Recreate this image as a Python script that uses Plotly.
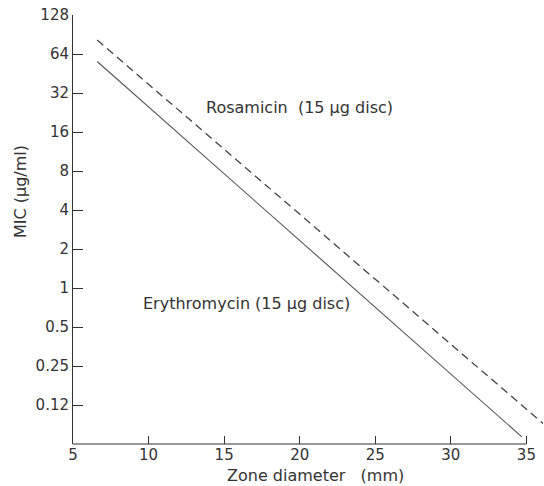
import numpy as np
import plotly.graph_objects as go

# Data
ery_x = [6.6, 34.7]
ery_y = [56, 0.071]
ros_x = [6.6, 36.2]
ros_y = [82, 0.088]

y_tickvals = [128, 64, 32, 16, 8, 4, 2, 1, 0.5, 0.25, 0.125]
y_ticktext = ["128", "64", "32", "16", "8", "4", "2", "1", "0.5", "0.25", "0.12"]
x_tickvals = [5, 10, 15, 20, 25, 30, 35]

FONT = "DejaVu Sans"
INK = "#333333"

W, H = 544, 486
ML, MR, MT, MB = 73, 1, 15, 42
pw, ph = W - ML - MR, H - MT - MB


def px_x(x):
    return (x - ML) / pw


def px_y(y):
    return (H - MB - y) / ph


fig = go.Figure()
fig.add_trace(go.Scatter(x=ros_x, y=ros_y, mode="lines",
                         line=dict(color="#444444", width=1.3, dash="8px,5px"),
                         name="Rosamicin"))
fig.add_trace(go.Scatter(x=ery_x, y=ery_y, mode="lines",
                         line=dict(color="#555555", width=1.1),
                         name="Erythromycin"))

fig.update_layout(
    width=W, height=H,
    margin=dict(l=ML, r=MR, t=MT, b=MB, autoexpand=False),
    paper_bgcolor="white", plot_bgcolor="white",
    showlegend=False,
    font=dict(family=FONT, size=15, color=INK),
    xaxis=dict(range=[5, 36.1], tickvals=x_tickvals, ticks="inside", ticklen=8,
               tickcolor=INK, showgrid=False, zeroline=False, showline=False,
               automargin=False,
               tickfont=dict(family=FONT, size=15, color=INK)),
    yaxis=dict(type="log", range=[np.log10(0.0625), np.log10(128)],
               tickvals=y_tickvals, ticktext=y_ticktext, ticks="inside", ticklen=10,
               tickcolor=INK, showgrid=False, zeroline=False, showline=True,
               linecolor=INK, linewidth=1, automargin=False,
               tickfont=dict(family=FONT, size=15, color=INK)),
    shapes=[dict(type="line", xref="x", yref="paper", x0=5, x1=35, y0=0, y1=0,
                 line=dict(color=INK, width=1))],
    annotations=[
        dict(x=20.0, y=np.log10(24.9), xref="x", yref="y", text="Rosamicin  (15 µg disc)",
             showarrow=False, font=dict(family=FONT, size=16, color=INK)),
        dict(x=16.5, y=np.log10(0.76), xref="x", yref="y", text="Erythromycin (15 µg disc)",
             showarrow=False, font=dict(family=FONT, size=16, color=INK)),
        dict(x=px_x(315), y=px_y(475), xref="paper", yref="paper", text="Zone diameter   (mm)",
             showarrow=False, yanchor="middle", font=dict(family=FONT, size=16, color=INK)),
        dict(x=px_x(20), y=px_y(192), xref="paper", yref="paper", text="MIC (µg/ml)",
             showarrow=False, textangle=-90, xanchor="center", yanchor="middle",
             font=dict(family=FONT, size=16, color=INK)),
    ],
)

fig.write_html("out.html", config={"displayModeBar": False},
               post_script="document.body.style.margin='0';document.body.style.overflow='hidden';")
